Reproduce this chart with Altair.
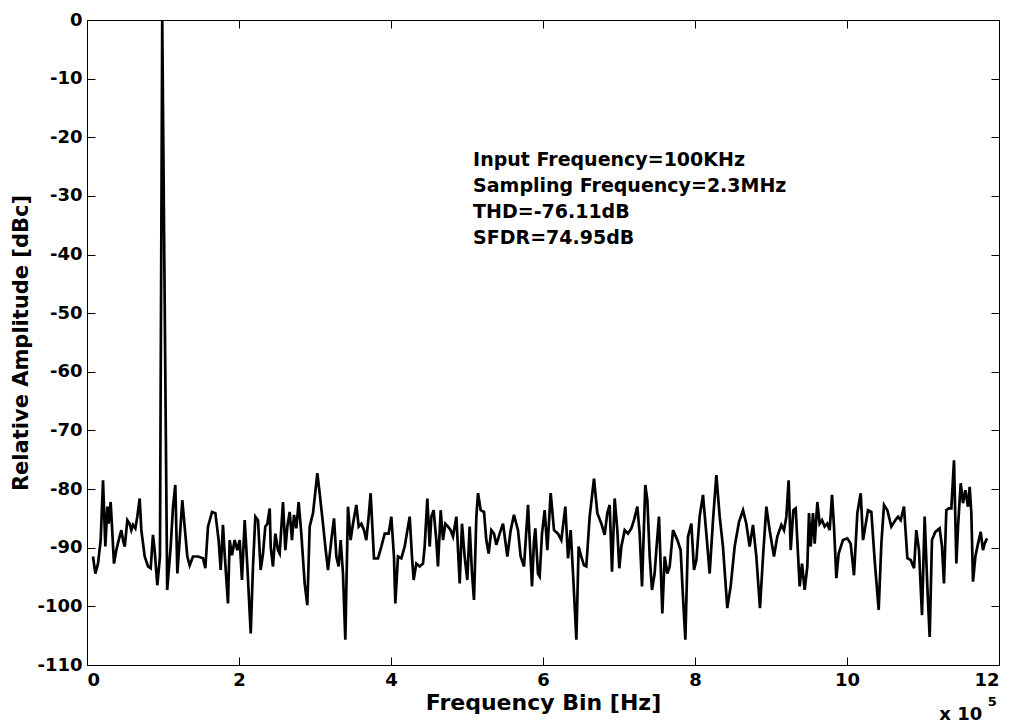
import altair as alt
import pandas as pd

# Frequency (x 10^5 Hz) and relative amplitude (dBc), traced in segments
freq_a = [0.079, 0.110, 0.145, 0.180, 0.211, 0.241, 0.268, 0.285, 0.311, 0.329, 0.355, 0.386, 0.417, 0.452,
          0.474, 0.496, 0.531, 0.561, 0.583, 0.605, 0.636, 0.662, 0.693, 0.715, 0.759, 0.803, 0.838, 0.868,
          0.890, 0.925, 0.960, 0.990, 1.055, 1.101, 1.132, 1.162, 1.189, 1.219, 1.254, 1.285, 1.320, 1.351,
          1.395, 1.461, 1.526, 1.557, 1.592, 1.645, 1.689, 1.732, 1.759, 1.789, 1.811, 1.855, 1.877, 1.908,
          1.943, 1.978, 2.009, 2.039, 2.075, 2.110, 2.154, 2.184, 2.215, 2.250, 2.285, 2.316, 2.346, 2.373,
          2.404]
amp_a = [-91.5, -94.4, -92.7, -88.7, -78.5, -89.8, -83.0, -85.9, -82.2, -86.4, -92.7, -90.4, -88.7, -87.0,
         -88.7, -89.8, -85.3, -85.9, -87.0, -86.1, -86.7, -84.7, -81.6, -87.0, -91.5, -93.2, -93.5, -87.8,
         -90.4, -96.4, -91.5, 0.0, -97.2, -89.8, -83.0, -79.3, -94.4, -88.7, -81.9, -86.4, -91.5, -93.0,
         -91.5, -91.5, -91.8, -93.5, -86.4, -83.9, -84.1, -88.7, -93.8, -86.1, -91.0, -99.5, -88.7, -91.3,
         -88.7, -90.4, -88.7, -95.5, -85.3, -93.2, -104.6, -93.2, -84.7, -85.3, -93.8, -91.0, -86.4, -85.9,
         -83.3]

freq_b = [2.417, 2.447, 2.478, 2.513, 2.535, 2.579, 2.610, 2.636, 2.667, 2.697, 2.724, 2.754, 2.785, 2.820,
          2.864, 2.899, 2.930, 2.974, 3.031, 3.061, 3.105, 3.136, 3.171, 3.215, 3.250, 3.281, 3.311, 3.338,
          3.368, 3.399, 3.434, 3.469, 3.500, 3.544, 3.575, 3.610, 3.645, 3.675, 3.706, 3.732, 3.776, 3.829,
          3.873, 3.917, 3.969, 4.004, 4.039, 4.057, 4.092, 4.136, 4.180, 4.246, 4.276, 4.298, 4.333, 4.377,
          4.421, 4.443, 4.478, 4.509, 4.531, 4.561, 4.596, 4.618, 4.654, 4.684, 4.715, 4.750]
amp_b = [-89.8, -93.2, -87.6, -90.4, -91.0, -82.2, -90.4, -86.4, -83.9, -88.7, -84.4, -86.7, -82.2, -87.6,
         -96.1, -99.8, -86.4, -84.1, -77.3, -80.7, -85.9, -89.8, -93.8, -88.7, -85.0, -91.5, -93.2, -88.7,
         -94.4, -105.7, -83.0, -88.7, -85.9, -82.7, -86.4, -85.9, -87.0, -88.7, -84.7, -80.7, -91.8, -91.8,
         -89.8, -87.6, -87.6, -84.7, -91.5, -99.5, -91.5, -91.8, -89.8, -84.7, -91.5, -95.5, -92.7, -93.2,
         -92.7, -89.8, -81.6, -89.8, -84.7, -83.6, -88.7, -93.2, -83.6, -88.7, -85.9, -86.4]

freq_c = [4.785, 4.816, 4.860, 4.904, 4.934, 4.969, 5.004, 5.035, 5.066, 5.092, 5.123, 5.145, 5.180, 5.224,
          5.254, 5.285, 5.320, 5.355, 5.386, 5.430, 5.474, 5.531, 5.575, 5.618, 5.671, 5.706, 5.750, 5.803,
          5.825, 5.855, 5.882, 5.899, 5.934, 5.956, 5.987, 6.022, 6.057, 6.101, 6.145, 6.197, 6.241, 6.294,
          6.329, 6.364, 6.395, 6.439, 6.469, 6.504, 6.539, 6.570, 6.614, 6.671, 6.715, 6.768, 6.811, 6.846,
          6.877, 6.908, 6.943, 6.978, 7.004, 7.031, 7.075, 7.118]
amp_c = [-87.0, -88.1, -84.7, -96.1, -85.9, -91.5, -95.5, -86.4, -94.4, -98.9, -84.7, -80.7, -83.6, -83.9,
         -88.7, -91.0, -87.0, -87.6, -89.5, -87.6, -85.9, -91.5, -87.0, -84.4, -87.0, -91.5, -93.2, -82.7,
         -88.7, -96.6, -88.7, -86.7, -94.4, -94.9, -87.6, -83.6, -90.4, -80.7, -87.0, -87.6, -88.7, -83.0,
         -91.8, -87.0, -94.4, -105.7, -89.8, -91.5, -93.0, -93.2, -84.7, -78.2, -84.1, -85.9, -87.8, -84.1,
         -82.7, -94.1, -81.6, -87.0, -93.5, -89.8, -87.0, -87.6]

freq_d = [7.162, 7.197, 7.241, 7.272, 7.303, 7.346, 7.373, 7.404, 7.434, 7.469, 7.491, 7.526, 7.570, 7.601,
          7.636, 7.667, 7.711, 7.768, 7.811, 7.842, 7.873, 7.908, 7.952, 7.987, 8.018, 8.061, 8.105, 8.149,
          8.193, 8.237, 8.281, 8.325, 8.368, 8.425, 8.469, 8.522, 8.579, 8.632, 8.675, 8.719, 8.763, 8.807,
          8.855, 8.895, 8.939, 8.982, 9.039, 9.083, 9.136, 9.171, 9.202, 9.232, 9.259, 9.294, 9.325, 9.346,
          9.377, 9.408, 9.443, 9.478, 9.500]
amp_d = [-86.7, -85.3, -83.0, -87.6, -96.6, -79.3, -81.9, -91.5, -97.2, -94.4, -90.4, -84.7, -101.2, -91.5,
         -94.4, -93.2, -87.0, -88.7, -90.4, -98.4, -105.7, -88.1, -85.9, -93.8, -92.1, -84.7, -81.0, -87.6,
         -94.4, -85.3, -77.6, -84.7, -89.8, -100.3, -96.6, -89.8, -85.6, -83.6, -85.9, -89.8, -86.1, -91.5,
         -100.3, -91.5, -83.0, -87.0, -91.5, -88.1, -86.1, -87.0, -84.7, -78.5, -90.4, -83.6, -83.3, -88.7,
         -96.6, -92.7, -97.2, -93.2, -84.1]

freq_e = [9.522, 9.553, 9.575, 9.610, 9.640, 9.671, 9.706, 9.741, 9.772, 9.803, 9.829, 9.860, 9.890, 9.947,
          10.004, 10.048, 10.092, 10.136, 10.180, 10.211, 10.241, 10.276, 10.320, 10.364, 10.417, 10.452,
          10.487, 10.531, 10.583, 10.636, 10.671, 10.706, 10.750, 10.794, 10.838, 10.882, 10.912, 10.947,
          10.987, 11.022, 11.057, 11.088, 11.118, 11.162, 11.219, 11.250, 11.276, 11.307, 11.338, 11.373,
          11.408, 11.439, 11.461, 11.496, 11.526, 11.557, 11.592, 11.614, 11.636, 11.658, 11.689, 11.724,
          11.759, 11.789, 11.811, 11.842]
amp_e = [-89.8, -84.1, -89.3, -82.2, -85.9, -85.3, -86.4, -85.9, -87.0, -81.0, -86.4, -95.2, -91.0, -88.7,
         -88.4, -89.3, -94.7, -84.1, -80.7, -88.7, -86.4, -83.6, -83.9, -92.1, -100.6, -89.3,
         -82.7, -83.6, -86.4, -85.3, -84.7, -85.3, -83.0, -91.8, -92.1, -93.5, -87.0, -90.4,
         -101.5, -84.7, -96.6, -105.2, -88.7, -87.3, -86.7, -89.8, -96.1, -83.6, -83.3, -83.3,
         -75.1, -92.7, -86.4, -79.0, -82.4, -80.2, -83.0, -79.6, -84.1, -95.8, -91.5, -89.3,
         -87.3, -90.4, -89.3, -88.4]

x_ticks = [0, 2, 4, 6, 8, 10, 12]
y_ticks = [-110, -100, -90, -80, -70, -60, -50, -40, -30, -20, -10, 0]
annotation_lines = ["Input Frequency=100KHz", "Sampling Frequency=2.3MHz",
                    "THD=-76.11dB", "SFDR=74.95dB"]
x_title = "Frequency Bin [Hz]"
y_title = "Relative Amplitude [dBc]"

freq = freq_a + freq_b + freq_c + freq_d + freq_e
amp = amp_a + amp_b + amp_c + amp_d + amp_e
df = pd.DataFrame({"f": freq, "a": amp})

FONT = "DejaVu Sans"
xs = alt.Scale(domain=[0, 12], nice=False, zero=False)
ys = alt.Scale(domain=[-110, 0], nice=False, zero=False)

line = alt.Chart(df).mark_line(color="black", strokeWidth=2.7).encode(
    x=alt.X("f:Q", scale=xs, title=x_title,
            axis=alt.Axis(orient="bottom", values=x_ticks, labelExpr="'' + datum.value",
                          offset=-8, tickSize=8, domain=False, grid=False,
                          labelPadding=6, titlePadding=3)),
    y=alt.Y("a:Q", scale=ys, title=y_title,
            axis=alt.Axis(orient="left", values=y_ticks, labelExpr="'' + datum.value",
                          offset=-8, tickSize=8, domain=False, grid=False,
                          labelPadding=5, titlePadding=5, titleFontSize=21)),
)

mirror = alt.Chart(df).mark_line(opacity=0).encode(
    x=alt.X("f:Q", scale=xs, title=None,
            axis=alt.Axis(orient="top", values=x_ticks, labels=False, offset=-8, tickSize=8,
                          domain=False, grid=False)),
    y=alt.Y("a:Q", scale=ys, title=None,
            axis=alt.Axis(orient="right", values=y_ticks, labels=False, offset=-8, tickSize=8,
                          domain=False, grid=False)),
)

ann_df = pd.DataFrame({"f": [5.08], "a": [-22.3]})
ann = alt.Chart(ann_df).mark_text(
    text=annotation_lines, align="left", baseline="top", font=FONT, fontWeight="bold",
    fontSize=19, lineHeight=26, color="black"
).encode(x=alt.X("f:Q", scale=xs, axis=None), y=alt.Y("a:Q", scale=ys, axis=None))

mult_df = pd.DataFrame({"f": [11.78], "a": [-118.6]})
mult = alt.Chart(mult_df).mark_text(
    text="x 10", align="right", baseline="middle", font=FONT, fontWeight="bold",
    fontSize=18, color="black"
).encode(x=alt.X("f:Q", scale=xs, axis=None), y=alt.Y("a:Q", scale=ys, axis=None))

sup_df = pd.DataFrame({"f": [11.91], "a": [-116.3]})
sup = alt.Chart(sup_df).mark_text(
    text="5", align="center", baseline="middle", font=FONT, fontWeight="bold",
    fontSize=13, color="black"
).encode(x=alt.X("f:Q", scale=xs, axis=None), y=alt.Y("a:Q", scale=ys, axis=None))

chart = alt.layer(line, mirror, ann, mult, sup).resolve_axis(
    x="independent", y="independent"
).properties(
    width=912, height=645,
    autosize=alt.AutoSizeParams(type="none"),
    padding={"left": 79, "top": 12, "right": 7, "bottom": 62},
    background="white",
).configure_view(
    stroke="black", strokeWidth=1
).configure_axis(
    labelFont=FONT, labelFontWeight="bold", labelFontSize=18, labelColor="black",
    titleFont=FONT, titleFontWeight="bold", titleFontSize=22, titleColor="black",
    tickColor="black", tickWidth=1,
)

chart.save("out.html", embed_options={"renderer": "svg", "actions": False})
